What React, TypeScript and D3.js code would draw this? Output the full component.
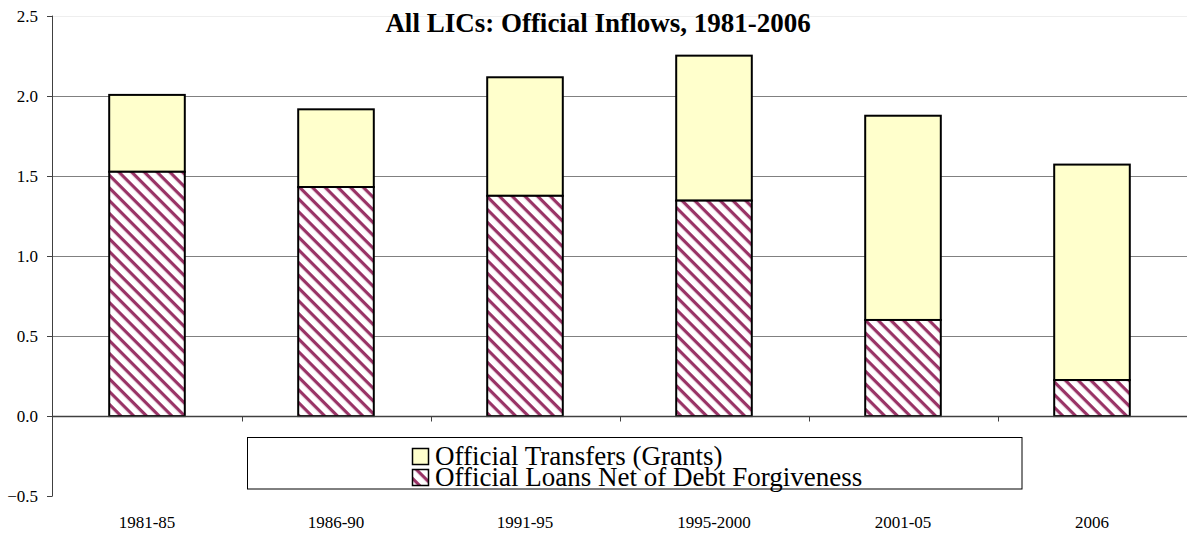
import React from "react";
import * as d3 from "d3";

const categories = ["1981-85", "1986-90", "1991-95", "1995-2000", "2001-05", "2006"];
const loansNet = [1.525, 1.43, 1.375, 1.345, 0.6, 0.225];
const grants = [0.48, 0.485, 0.74, 0.905, 1.275, 1.345];
const yTicks = [-0.5, 0.0, 0.5, 1.0, 1.5, 2.0, 2.5];
const seriesNames = ["Official Transfers (Grants)", "Official Loans Net of Debt Forgiveness"];
const title = "All LICs: Official Inflows, 1981-2006";

const W = 1187;
const H = 538;
const FONT = "'Liberation Serif', 'Times New Roman', serif";

export default function App() {
  const x = d3.scaleBand<string>().domain(categories).range([52.5, 1186.5]).paddingInner(0.6).paddingOuter(0.3);
  const y = d3.scaleLinear().domain([-0.5, 2.5]).range([496.2, 15.6]);
  const xb = d3.scaleBand<string>().domain(categories).range([52.5, 1186.5]);
  const bw = x.bandwidth();
  const y0 = Math.round(y(0)) + 0.5;

  return (
    <svg width={W} height={H} style={{ position: "absolute", left: 0, top: 0, background: "#fff" }}>
      <defs>
        <pattern id="hatch" patternUnits="userSpaceOnUse" width={9} height={9} patternTransform="rotate(45)">
          <rect x={0} y={0} width={9} height={9} fill="#fff" />
          <rect x={0} y={0} width={9} height={3.2} fill="#993366" />
        </pattern>
      </defs>
      {/* gridlines */}
      {yTicks.filter((t) => t > 0).map((t) => (
        <line key={t} x1={52} x2={1187} y1={Math.round(y(t)) + 0.5} y2={Math.round(y(t)) + 0.5}
          stroke={t === 2.5 ? "#eeeeee" : "#808080"} strokeWidth={1} />
      ))}
      {/* bars */}
      {categories.map((c, i) => {
        const bx = x(c)!;
        const yl = y(loansNet[i]);
        const yt = y(loansNet[i] + grants[i]);
        return (
          <g key={c}>
            <rect x={bx} y={yt} width={bw} height={yl - yt} fill="#FFFFCC" stroke="#000" strokeWidth={2} />
            <rect x={bx} y={yl} width={bw} height={y(0) - yl} fill="url(#hatch)" stroke="#000" strokeWidth={2} />
          </g>
        );
      })}
      {/* zero axis */}
      <line x1={52} x2={1187} y1={y0} y2={y0} stroke="#404040" strokeWidth={1.3} />
      {categories.map((c, i) => (
        <line key={"ct" + i} x1={Math.round(xb(c)! + xb.bandwidth()) + 0.5} x2={Math.round(xb(c)! + xb.bandwidth()) + 0.5}
          y1={y0} y2={y0 + 5} stroke="#404040" strokeWidth={1} />
      ))}
      {/* y axis */}
      <line x1={52.5} x2={52.5} y1={y(2.5)} y2={y(-0.5)} stroke="#404040" strokeWidth={1} />
      {yTicks.map((t) => (
        <g key={"yt" + t}>
          <line x1={47} x2={52.5} y1={Math.round(y(t)) + 0.5} y2={Math.round(y(t)) + 0.5} stroke="#404040" strokeWidth={1} />
          <text x={38} y={y(t) + 6} textAnchor="end" fontFamily={FONT} fontSize={17} fill="#000">
            {d3.format(".1f")(t)}
          </text>
        </g>
      ))}
      {/* x labels */}
      {categories.map((c) => (
        <text key={"xl" + c} x={xb(c)! + xb.bandwidth() / 2} y={528} textAnchor="middle" fontFamily={FONT} fontSize={17} fill="#000">
          {c}
        </text>
      ))}
      {/* title */}
      <text x={598} y={32} textAnchor="middle" fontFamily={FONT} fontSize={27} fontWeight="bold" fill="#000">
        {title}
      </text>
      {/* legend */}
      <rect x={247.5} y={437.5} width={774.5} height={51.5} fill="#fff" stroke="#000" strokeWidth={1} />
      <rect x={412.5} y={448.5} width={16} height={16} fill="#FFFFCC" stroke="#000" strokeWidth={1.5} />
      <rect x={412.5} y={469.5} width={16} height={16} fill="url(#hatch)" stroke="#000" strokeWidth={1.5} />
      <text x={435} y={465} fontFamily={FONT} fontSize={27} fill="#000">{seriesNames[0]}</text>
      <text x={435} y={486} fontFamily={FONT} fontSize={27} fill="#000">{seriesNames[1]}</text>
    </svg>
  );
}
